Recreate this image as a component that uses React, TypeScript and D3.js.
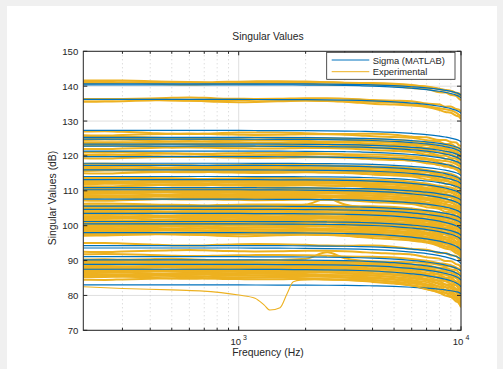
import React from "react";
import * as d3 from "d3";

// ---------- data ----------
const FREQ = [200, 250, 300, 400, 500, 600, 700, 800, 1000, 1200, 1500, 2000, 2500, 3000, 3500, 4000, 5000, 6000, 7000, 8000, 8500, 9000, 9500, 9800, 10000];
// fraction of each line's high-frequency roll-off reached at each frequency
const ROLLOFF = [0, 0, 0, 0, 0, 0, 0, 0, 0, 0.005, 0.01, 0.02, 0.035, 0.05, 0.07, 0.1, 0.17, 0.26, 0.36, 0.49, 0.57, 0.66, 0.78, 0.88, 1];
// measured ripple shapes of the experimental curves (dB)
const RIPPLE_A = [0.3, 0.35, 0.3, 0.1, -0.1, -0.2, -0.2, -0.1, 0, 0.1, 0.15, 0.1, 0, -0.1, -0.1, 0, 0.1, 0.1, 0, -0.1, 0, 0.1, 0, -0.15, 0];
const RIPPLE_B = [-0.2, -0.1, 0, 0.2, 0.3, 0.2, 0, -0.2, -0.3, -0.2, 0, 0.2, 0.25, 0.1, -0.1, -0.2, -0.1, 0.1, 0.2, 0, -0.15, 0.1, -0.1, 0.1, 0];
const RIPPLE_C = [0.4, 0.45, 0.3, 0, -0.25, -0.3, -0.25, -0.1, 0.1, 0.15, 0.15, 0, -0.15, -0.15, 0, 0.15, 0.1, -0.1, 0.1, -0.2, 0.1, -0.1, 0.2, -0.2, 0];
const RIPPLE_D = [-0.3, -0.35, -0.2, 0, 0.15, 0.25, 0.15, 0, -0.1, -0.15, -0.1, 0.1, 0.15, 0.1, 0, -0.1, 0, 0.2, -0.1, 0.1, -0.2, 0.2, -0.1, 0.1, 0];
const RIPPLES = [RIPPLE_A, RIPPLE_B, RIPPLE_C, RIPPLE_D];
// local resonance bump seen on two experimental curves
const BUMP = [0, 0, 0, 0, 0, 0, 0, 0, 0, 0, 0, 0.2, 2.0, 0.5, 0.1, 0, 0, 0, 0, 0, 0, 0, 0, 0, 0];

// Sigma (MATLAB): low-frequency level and drop at 10 kHz (dB)
const SIGMA_LEVEL = [140.7, 140.4, 136.2, 127.3, 125.3, 124.8, 123.4, 122.8, 121.4, 119.8, 117.9, 117.3, 116.0, 114.1, 113.2, 110.9, 110.3, 107.6, 105.6, 104.7, 103.5, 101.2, 100.5, 98.0, 94.3, 93.6, 91.1, 90.2, 88.9, 87.5, 83.0];
const SIGMA_DROP = [3.3, 3.8, 4.0, 3.3, 3.5, 3.8, 3.6, 4.0, 3.8, 3.9, 3.5, 4.2, 4.0, 3.6, 4.2, 3.6, 4.5, 4.0, 3.6, 4.0, 4.5, 4.0, 4.5, 5.0, 4.0, 4.5, 4.2, 4.8, 4.5, 5.0, 2.5];

// Experimental: low-frequency level and drop at 10 kHz (dB)
const EXP_LEVEL = [
  141.3, 141.0, 140.8, 136.5, 136.0, 135.7,
  126.6, 126.2, 125.2, 124.8, 124.4, 124.0, 123.6, 123.1, 122.7, 122.3, 120.8, 120.4, 120.0, 119.6,
  117.4, 117.1, 116.8, 116.5, 116.2, 115.9, 115.6, 115.3,
  113.6, 113.3, 113.0, 112.7, 112.4, 112.1, 111.8, 111.6,
  110.8, 110.5, 110.2, 109.9, 109.6, 109.3, 109.0, 108.7, 108.4, 108.1, 107.8, 107.5,
  106.0, 105.7, 105.4, 105.1, 104.8, 104.5, 104.2, 103.9, 103.6, 103.3, 103.0, 102.7, 102.4, 102.1, 101.8,
  101.5, 101.2, 100.9, 100.6, 100.3, 100.0, 99.7, 99.4, 99.1, 98.8, 98.5, 98.2, 97.9, 97.6, 97.3,
  94.6, 92.8, 91.5,
  90.2, 89.9, 89.6, 89.3, 89.0, 88.7, 88.4, 88.1, 87.8, 87.5, 87.2, 86.9, 86.6, 86.3, 86.0, 85.7, 85.4, 85.1, 84.8,
];
const EXP_DROP = [
  4.2, 3.6, 4.8, 3.8, 4.6, 5.2,
  3.8, 4.5, 4.0, 4.8, 3.9, 4.4, 5.0, 4.2, 4.8, 5.2, 4.0, 4.6, 5.0, 4.4,
  4.0, 4.6, 4.2, 5.0, 4.4, 5.2, 4.6, 5.4,
  4.2, 4.8, 4.4, 5.0, 4.6, 5.2, 4.8, 5.4,
  4.3, 4.9, 4.5, 5.1, 4.7, 5.3, 4.9, 5.5, 5.0, 5.6, 5.2, 5.8,
  4.5, 4.8, 4.6, 5.0, 4.7, 5.1, 4.9, 5.3, 5.0, 5.4, 5.2, 5.5, 5.3, 5.6, 5.4,
  5.7, 5.5, 5.8, 5.6, 6.0, 5.8, 6.1, 5.9, 6.2, 6.0, 6.3, 6.1, 6.4, 6.2, 6.5,
  4.5, 4.8, 4.4,
  3.0, 3.6, 4.0, 4.4, 4.8, 5.0, 5.4, 5.6, 6.0, 6.2, 6.6, 6.8, 7.0, 7.2, 7.4, 7.6, 7.8, 8.0, 8.2,
];
const EXP_BUMPED = [49, 81]; // indices of curves carrying the bump
// the curve with the resonance notch: frequency (Hz) and level (dB)
const NOTCH_FREQ = [200, 300, 500, 669, 1000, 1184, 1300, 1383, 1535, 1650, 1760, 1900, 2200, 3000, 4000, 5000, 6000, 7000, 8000, 9000, 9600, 10000];
const NOTCH_DB = [82.5, 82.0, 81.6, 81.3, 80.1, 79.2, 77.3, 75.8, 76.5, 80.5, 83.9, 84.4, 84.5, 84.3, 84.0, 83.4, 82.7, 81.8, 80.6, 79.4, 78.3, 76.8];

const Y_TICKS = [70, 80, 90, 100, 110, 120, 130, 140, 150];
const X_MAJOR = [1000, 10000];
const X_MINOR = [300, 400, 500, 600, 700, 800, 900, 2000, 3000, 4000, 5000, 6000, 7000, 8000, 9000];
const TITLE = "Singular Values";
const X_LABEL = "Frequency (Hz)";
const Y_LABEL = "Singular Values (dB)";
const LEGEND = ["Sigma (MATLAB)", "Experimental"];

// ---------- style ----------
const BLUE = "#0072BD";
const YELLOW = "#EDB120";
const INK = "#262626";
const FONT = "'Liberation Sans', Arial, Helvetica, sans-serif";

export default function App() {
  const W = 503, H = 369;
  const L = 83.3, R = 461, T = 51.3, B = 330.3;
  const x = d3.scaleLog().domain([200, 10000]).range([L, R]);
  const y = d3.scaleLinear().domain([70, 150]).range([B, T]);
  const line = d3
    .line<[number, number]>()
    .x((d) => x(d[0]))
    .y((d) => y(d[1]))
    .curve(d3.curveMonotoneX);

  const sigmaPaths = SIGMA_LEVEL.map((lv, i) =>
    line(FREQ.map((f, j) => [f, lv - SIGMA_DROP[i] * ROLLOFF[j]] as [number, number])) as string
  );
  const expPaths = EXP_LEVEL.map((lv, i) => {
    const rip = RIPPLES[i % RIPPLES.length];
    const bumped = EXP_BUMPED.includes(i);
    return line(
      FREQ.map((f, j) => [f, lv + rip[j] - EXP_DROP[i] * ROLLOFF[j] + (bumped ? BUMP[j] : 0)] as [number, number])
    ) as string;
  });
  const notchPath = line(NOTCH_FREQ.map((f, i) => [f, NOTCH_DB[i]] as [number, number])) as string;

  const tickLen = 4;
  const minorLen = 2.5;

  return (
    <svg width={W} height={H} style={{ position: "absolute", left: 0, top: 0 }} fontFamily={FONT}>
      <rect x={0} y={0} width={W} height={H} fill="#f0f0f0" />
      <rect x={7} y={6} width={490} height={H - 6} fill="#ffffff" />
      <defs>
        <clipPath id="plot">
          <rect x={L} y={T} width={R - L} height={B - T} />
        </clipPath>
      </defs>
      {/* grid */}
      {Y_TICKS.map((t) => (
        <line key={"gy" + t} x1={L} x2={R} y1={y(t)} y2={y(t)} stroke="#dfdfdf" strokeWidth={1} />
      ))}
      {X_MINOR.map((t) => (
        <line key={"gm" + t} x1={x(t)} x2={x(t)} y1={T} y2={B} stroke="#c4c4c4" strokeWidth={0.8} strokeDasharray="1,3" />
      ))}
      {X_MAJOR.map((t) => (
        <line key={"gx" + t} x1={x(t)} x2={x(t)} y1={T} y2={B} stroke="#dfdfdf" strokeWidth={1} />
      ))}
      <g clipPath="url(#plot)" fill="none">
        {expPaths.map((p, i) => (
          <path key={"e" + i} d={p} stroke={YELLOW} strokeWidth={2} />
        ))}
        {sigmaPaths.map((p, i) => (
          <path key={"s" + i} d={p} stroke={BLUE} strokeWidth={1.2} />
        ))}
        <path d={notchPath} stroke={YELLOW} strokeWidth={1.1} />
      </g>
      {/* axes box */}
      <rect x={L} y={T} width={R - L} height={B - T} fill="none" stroke={INK} strokeWidth={1} />
      {Y_TICKS.map((t) => (
        <g key={"ty" + t}>
          <line x1={L} x2={L + tickLen} y1={y(t)} y2={y(t)} stroke={INK} />
          <line x1={R} x2={R - tickLen} y1={y(t)} y2={y(t)} stroke={INK} />
          <text x={L - 5} y={y(t)} textAnchor="end" dominantBaseline="central" fontSize={9.6} fill={INK}>
            {t}
          </text>
        </g>
      ))}
      {X_MINOR.map((t) => (
        <g key={"tm" + t}>
          <line x1={x(t)} x2={x(t)} y1={B} y2={B - minorLen} stroke={INK} />
          <line x1={x(t)} x2={x(t)} y1={T} y2={T + minorLen} stroke={INK} />
        </g>
      ))}
      {X_MAJOR.map((t) => (
        <g key={"tx" + t}>
          <line x1={x(t)} x2={x(t)} y1={B} y2={B - tickLen} stroke={INK} />
          <line x1={x(t)} x2={x(t)} y1={T} y2={T + tickLen} stroke={INK} />
          <text x={x(t)} y={345} textAnchor="middle" fontSize={9.6} fill={INK}>
            10
            <tspan dx={2} dy={-5} fontSize={7}>
              {Math.round(Math.log10(t))}
            </tspan>
          </text>
        </g>
      ))}
      <text x={268} y={40} textAnchor="middle" fontSize={10.3} fill={INK}>
        {TITLE}
      </text>
      <text x={268} y={356} textAnchor="middle" fontSize={10.4} fill={INK}>
        {X_LABEL}
      </text>
      <text
        transform={`translate(56,198) rotate(-90)`}
        textAnchor="middle"
        fontSize={10.4}
        fill={INK}
      >
        {Y_LABEL}
      </text>
      {/* legend */}
      <rect x={326.7} y={52.3} width={128.3} height={27} fill="#ffffff" stroke={INK} strokeWidth={0.8} />
      {LEGEND.map((lbl, i) => (
        <g key={lbl}>
          <line x1={331.7} x2={369.3} y1={60 + i * 11.7} y2={60 + i * 11.7} stroke={i === 0 ? BLUE : YELLOW} strokeWidth={1} />
          <text x={372.7} y={60 + i * 11.7} dominantBaseline="central" fontSize={9.4} fill={INK}>
            {lbl}
          </text>
        </g>
      ))}
    </svg>
  );
}
